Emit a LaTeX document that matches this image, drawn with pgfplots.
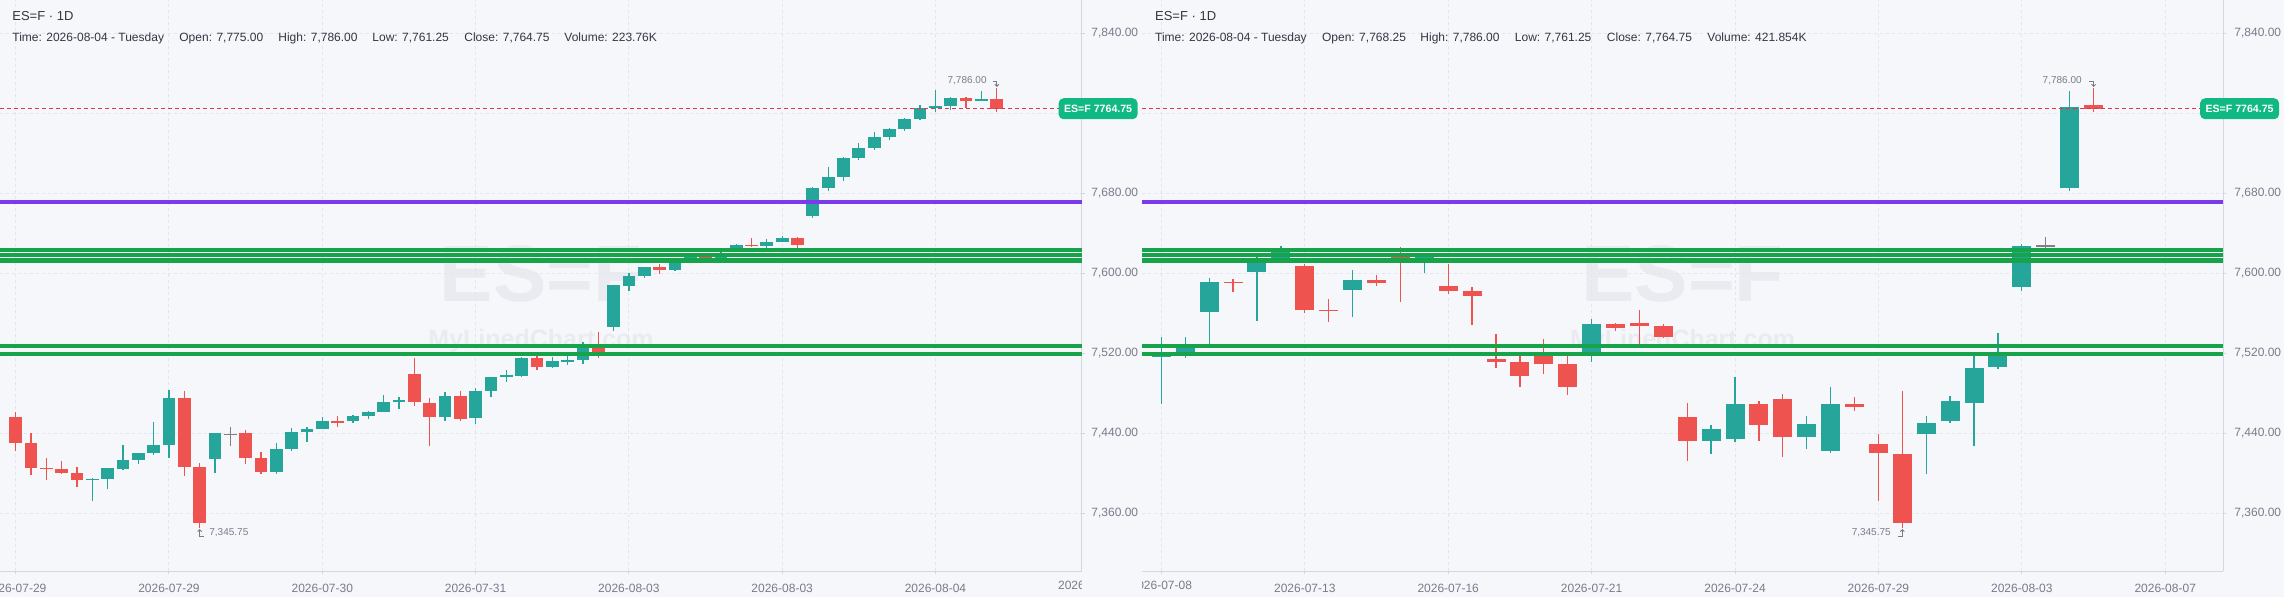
\documentclass[border=0pt]{standalone}
\usepackage{fontspec}
\setmainfont{Liberation Sans}
\usepackage{pgfplots}
\pgfplotsset{compat=1.18}
\usepackage{pgfplotstable}
\usetikzlibrary{arrows.meta}

\definecolor{bgc}{RGB}{246,247,251}
\definecolor{upc}{RGB}{38,166,154}
\definecolor{dnc}{RGB}{239,83,80}
\definecolor{dojic}{RGB}{128,128,128}
\definecolor{purp}{RGB}{124,58,237}
\definecolor{grn}{RGB}{22,163,74}
\definecolor{lastc}{RGB}{232,48,80}
\definecolor{boxc}{RGB}{16,185,129}
\definecolor{gridc}{RGB}{226,229,236}
\definecolor{axc}{RGB}{212,215,223}
\definecolor{tickc}{RGB}{120,124,138}
\definecolor{titc}{RGB}{50,54,64}
\definecolor{wmc}{RGB}{233,235,241}

% left panel candles: i open high low close
\pgfplotstableread{
i o h l c
5 7394.0 7396.0 7372.7 7394.5
6 7394.7 7405.3 7384.7 7405.3
7 7404.7 7428.3 7403.7 7413.3
8 7413.7 7420.3 7409.7 7420.3
9 7420.7 7451.3 7418.3 7428.3
10 7428.7 7483.3 7415.7 7475.3
13 7414.7 7440.3 7400.3 7440.3
17 7401.7 7430.3 7399.7 7424.3
18 7424.7 7445.3 7422.7 7441.3
19 7441.7 7446.3 7431.7 7444.3
20 7444.7 7456.3 7444.7 7452.3
22 7452.7 7458.3 7450.7 7457.3
23 7457.5 7462.5 7454.8 7461.8
24 7461.8 7478.5 7461.8 7471.5
25 7471.8 7476.5 7464.8 7473.2
28 7456.8 7481.5 7452.8 7477.5
30 7455.8 7485.5 7449.8 7482.5
31 7482.8 7496.5 7476.8 7496.5
32 7497.5 7503.5 7491.5 7497.8
33 7497.8 7516.8 7496.5 7515.5
35 7506.8 7516.5 7505.2 7512.5
36 7512.5 7518.2 7508.5 7513.2
37 7513.8 7531.5 7509.8 7526.8
39 7546.8 7588.5 7542.8 7588.5
40 7587.8 7600.8 7582.8 7597.5
41 7597.8 7606.5 7595.8 7606.5
43 7603.8 7613.0 7602.5 7611.5
44 7613.0 7619.0 7611.0 7617.0
46 7615.2 7622.0 7613.0 7620.8
47 7625.8 7629.5 7624.0 7628.5
49 7627.8 7634.5 7625.8 7631.5
50 7631.8 7637.5 7631.8 7635.5
52 7657.8 7686.8 7655.8 7685.5
53 7685.8 7706.5 7682.8 7696.5
54 7696.8 7716.2 7692.8 7715.5
55 7715.8 7730.5 7713.8 7725.5
56 7725.8 7741.5 7723.5 7736.5
57 7736.8 7745.5 7733.8 7744.5
58 7744.8 7755.5 7742.8 7754.5
59 7754.8 7768.5 7753.8 7765.5
60 7765.8 7783.5 7761.8 7767.5
61 7767.8 7776.5 7763.8 7775.5
63 7772.8 7782.5 7772.8 7774.5
}\LU
\pgfplotstableread{
i o h l c
0 7456.3 7461.3 7422.7 7430.7
1 7430.3 7440.3 7398.7 7405.7
2 7405.5 7415.3 7393.7 7405.0
3 7404.3 7413.0 7399.3 7400.7
4 7400.3 7406.3 7386.7 7393.7
11 7475.3 7482.3 7397.7 7406.7
12 7406.3 7411.0 7345.75 7350.7
15 7440.3 7444.0 7409.7 7415.7
16 7415.3 7421.3 7399.7 7401.7
21 7452.0 7457.7 7446.7 7451.7
26 7499.5 7515.5 7467.8 7471.8
27 7470.5 7475.2 7427.8 7456.8
29 7477.5 7482.2 7452.8 7454.8
34 7515.5 7517.8 7503.8 7506.8
38 7526.8 7541.8 7515.8 7521.2
42 7606.5 7609.8 7599.8 7603.8
45 7616.5 7618.0 7613.0 7615.0
48 7628.5 7635.5 7626.8 7627.8
51 7635.5 7636.8 7625.8 7628.8
62 7775.5 7776.5 7765.8 7772.8
64 7775.0 7786.0 7761.25 7764.75
}\LD
\pgfplotstableread{
i o h l c
14 7439.0 7446.3 7427.7 7439.0
}\LG

% right panel candles
\pgfplotstableread{
i o h l c
0 7516.8 7536.8 7469.5 7521.2
1 7521.2 7536.8 7515.8 7526.8
2 7561.5 7595.5 7529.5 7591.5
4 7601.5 7616.8 7552.5 7611.0
5 7615.0 7627.5 7613.0 7623.0
8 7583.5 7603.5 7556.8 7593.5
11 7610.5 7619.0 7600.5 7617.0
18 7521.5 7554.5 7511.5 7549.5
23 7432.8 7448.5 7419.8 7444.5
24 7434.8 7496.5 7431.5 7469.5
27 7436.8 7457.5 7424.8 7449.5
28 7422.8 7486.5 7420.8 7469.5
32 7439.3 7458.0 7399.3 7451.0
33 7452.3 7478.0 7450.3 7473.0
34 7470.3 7519.7 7427.3 7506.0
35 7506.3 7540.7 7504.3 7519.7
36 7587.0 7629.7 7582.3 7628.0
38 7685.3 7783.0 7682.3 7767.0
}\RU
\pgfplotstableread{
i o h l c
3 7591.5 7594.5 7581.5 7591.0
6 7607.5 7610.0 7560.5 7563.5
7 7563.5 7574.5 7551.5 7563.0
9 7593.5 7598.5 7587.5 7590.5
10 7616.0 7626.5 7571.5 7612.0
12 7587.5 7610.0 7579.5 7582.5
13 7582.5 7586.5 7548.5 7577.5
14 7514.5 7539.5 7505.5 7511.5
15 7511.5 7517.5 7486.8 7497.8
16 7517.5 7534.5 7499.8 7509.8
17 7509.5 7517.5 7478.8 7486.8
19 7549.5 7550.8 7542.8 7545.8
20 7550.5 7563.5 7529.5 7547.8
21 7547.5 7549.5 7535.8 7536.8
22 7456.5 7470.5 7412.8 7432.8
25 7469.5 7472.5 7432.8 7448.8
26 7474.5 7479.5 7416.8 7436.8
29 7470.0 7477.0 7462.3 7466.3
30 7429.7 7440.0 7372.3 7420.3
31 7419.7 7483.0 7345.75 7350.3
39 7768.25 7786.0 7761.25 7764.75
}\RD
\pgfplotstableread{
i o h l c
37 7628.0 7637.0 7624.7 7628.0
}\RG

\pgfplotsset{
  panel/.style={
    scale only axis, height=285.65pt, ymin=7302.2, ymax=7873.5,
    anchor=south west, clip=false,
    axis x line*=bottom, axis y line*=right,
    axis line style={draw=axc, line width=0.6pt},
    tick style={draw=axc, line width=0.5pt},
    major tick length=1.5pt, tick align=outside,
    grid=major,
    major grid style={draw=gridc, dash pattern=on 1.5pt off 1.5pt, line width=0.5pt},
    ytick={7360,7440,7520,7600,7680,7840},
    extra y ticks={7760}, extra y tick labels={},
    scaled y ticks=false,
    /pgf/number format/fixed, /pgf/number format/fixed zerofill,
    /pgf/number format/precision=2, /pgf/number format/1000 sep={,},
    /pgf/number format/assume math mode=true,
    yticklabel style={font=\fontsize{6}{7}\selectfont, text=tickc, anchor=west, inner sep=0pt},
    xticklabel style={font=\fontsize{6}{7}\selectfont, text=tickc, anchor=center, yshift=-6.85pt, inner sep=0pt},
  },
  wick/.style={draw=none, mark=none,
    error bars/y dir=both, error bars/y explicit, error bars/error mark=none,
    error bars/error bar style={draw=#1, line width=0.65pt, solid}},
  body/.style 2 args={draw=none, mark=none,
    error bars/y dir=both, error bars/y explicit, error bars/error mark=none,
    error bars/error bar style={draw=#1, line width=#2, solid}},
}
\newcommand{\candles}[3]{%
  \addplot[wick=#2] table[x=i, y expr={(\thisrow{h}+\thisrow{l})/2}, y error expr={(\thisrow{h}-\thisrow{l})/2}] {#1};
  \addplot[body={#2}{#3}] table[x=i, y expr={(\thisrow{o}+\thisrow{c})/2}, y error expr={max(abs(\thisrow{o}-\thisrow{c})/2,0.5)}] {#1};
}

\begin{document}
\begin{tikzpicture}
\fill[bgc] (0,0) rectangle (1142pt,298.5pt);
% watermarks
\node[anchor=base, inner sep=0pt, text=wmc, font=\fontsize{40}{40}\bfseries\selectfont] at (270.5pt,147.65pt) {ES=F};
\node[anchor=base, inner sep=0pt, text=wmc, font=\fontsize{12.5}{13}\bfseries\selectfont] at (270.5pt,124.5pt) {MyLinedChart.com};
\node[anchor=base, inner sep=0pt, text=wmc, font=\fontsize{40}{40}\bfseries\selectfont] at (841.3pt,147.65pt) {ES=F};
\node[anchor=base, inner sep=0pt, text=wmc, font=\fontsize{12.5}{13}\bfseries\selectfont] at (841.3pt,124.5pt) {MyLinedChart.com};

% ---------------- left panel ----------------
\begin{axis}[panel, at={(0pt,12.85pt)}, width=540.85pt,
  xmin=-1.024, xmax=69.54,
  xtick={0,10,...,60},
  xticklabels={2026-07-29,2026-07-29,2026-07-30,2026-07-31,2026-08-03,2026-08-03,2026-08-04},
  yticklabel style={xshift=3.15pt}]
\candles{\LU}{upc}{6.35pt}
\candles{\LD}{dnc}{6.35pt}
\candles{\LG}{dojic}{6.35pt}
\addplot[grn, line width=2pt] coordinates {(-1.024,7623.5) (69.54,7623.5)};
\addplot[grn, line width=2pt] coordinates {(-1.024,7618.5) (69.54,7618.5)};
\addplot[grn, line width=2pt] coordinates {(-1.024,7613.7) (69.54,7613.7)};
\addplot[grn, line width=2pt] coordinates {(-1.024,7612.0) (69.54,7612.0)};
\addplot[grn, line width=2pt] coordinates {(-1.024,7527.5) (69.54,7527.5)};
\addplot[grn, line width=2pt] coordinates {(-1.024,7519.7) (69.54,7519.7)};
\addplot[purp, line width=1.85pt] coordinates {(-1.024,7671.7) (69.54,7671.7)};
\addplot[lastc, line width=0.6pt, dash pattern=on 2pt off 1.5pt] coordinates {(-1.024,7764.75) (69.54,7764.75)};
\node[anchor=east, inner sep=0pt, font=\fontsize{5}{6}\selectfont, text=tickc] at (axis cs:63.36,7792.8) {7,786.00};
\draw[tickc, line width=0.45pt, -{Straight Barb[length=1pt,width=2pt]}] (axis cs:63.74,7791.8) -- (axis cs:64,7791.8) -- (axis cs:64,7786.5);
\node[anchor=west, inner sep=0pt, font=\fontsize{5}{6}\selectfont, text=tickc] at (axis cs:12.61,7340.5) {7,345.75};
\draw[tickc, line width=0.45pt, -{Straight Barb[length=1pt,width=2pt]}] (axis cs:12.26,7337) -- (axis cs:12,7337) -- (axis cs:12,7344.5);
\node[fill=boxc, text=white, rounded corners=2.5pt, minimum width=39.5pt, minimum height=10.5pt, inner sep=0pt, font=\fontsize{5.3}{6}\bfseries\selectfont] at (axis cs:70.61,7764.75) {ES=F 7764.75};
\end{axis}

% ---------------- right panel ----------------
\begin{axis}[panel, at={(571pt,12.85pt)}, width=540.65pt,
  xmin=-0.81, xmax=44.43,
  xtick={0,6,...,42},
  xticklabels={{},2026-07-13,2026-07-16,2026-07-21,2026-07-24,2026-07-29,2026-08-03,2026-08-07},
  yticklabel style={xshift=3.85pt}]
\candles{\RU}{upc}{9.5pt}
\candles{\RD}{dnc}{9.5pt}
\candles{\RG}{dojic}{9.5pt}
\addplot[grn, line width=2pt] coordinates {(-0.81,7623.5) (44.43,7623.5)};
\addplot[grn, line width=2pt] coordinates {(-0.81,7618.5) (44.43,7618.5)};
\addplot[grn, line width=2pt] coordinates {(-0.81,7613.7) (44.43,7613.7)};
\addplot[grn, line width=2pt] coordinates {(-0.81,7612.0) (44.43,7612.0)};
\addplot[grn, line width=2pt] coordinates {(-0.81,7527.5) (44.43,7527.5)};
\addplot[grn, line width=2pt] coordinates {(-0.81,7519.7) (44.43,7519.7)};
\addplot[purp, line width=1.85pt] coordinates {(-0.81,7671.7) (44.43,7671.7)};
\addplot[lastc, line width=0.6pt, dash pattern=on 2pt off 1.5pt] coordinates {(-0.81,7764.75) (44.43,7764.75)};
\node[anchor=east, inner sep=0pt, font=\fontsize{5}{6}\selectfont, text=tickc] at (axis cs:38.52,7792.8) {7,786.00};
\draw[tickc, line width=0.45pt, -{Straight Barb[length=1pt,width=2pt]}] (axis cs:38.83,7791.8) -- (axis cs:39,7791.8) -- (axis cs:39,7786.5);
\node[anchor=east, inner sep=0pt, font=\fontsize{5}{6}\selectfont, text=tickc] at (axis cs:30.53,7340.5) {7,345.75};
\draw[tickc, line width=0.45pt, -{Straight Barb[length=1pt,width=2pt]}] (axis cs:30.83,7337) -- (axis cs:31,7337) -- (axis cs:31,7344.5);
\node[fill=boxc, text=white, rounded corners=2.5pt, minimum width=39.5pt, minimum height=10.5pt, inner sep=0pt, font=\fontsize{5.3}{6}\bfseries\selectfont] at (axis cs:45.11,7764.75) {ES=F 7764.75};
\end{axis}

% clipped partial tick labels at panel edges
\begin{scope}
\clip (0,0) rectangle (540.85pt,298.5pt);
\node[font=\fontsize{6}{7}\selectfont, text=tickc, inner sep=0pt] at (544.4pt,6pt) {2026-08-05};
\end{scope}
\begin{scope}
\clip (571pt,0) rectangle (1142pt,298.5pt);
\node[font=\fontsize{6}{7}\selectfont, text=tickc, inner sep=0pt] at (580.65pt,6pt) {2026-07-08};
\end{scope}

% headers
\node[anchor=base west, inner sep=0pt, text=titc, font=\fontsize{6.5}{8}\selectfont] at (6pt,288.2pt) {ES=F · 1D};
\foreach \x/\t in {6/{Time: 2026-08-04 - Tuesday}, 89.5/{Open: 7,775.00}, 139/{High: 7,786.00}, 186/{Low: 7,761.25}, 232/{Close: 7,764.75}, 282/{Volume: 223.76K}}
  \node[anchor=base west, inner sep=0pt, text=titc, font=\fontsize{6}{7}\selectfont] at (\x pt,277.5pt) {\t};
\node[anchor=base west, inner sep=0pt, text=titc, font=\fontsize{6.5}{8}\selectfont] at (577.35pt,288.2pt) {ES=F · 1D};
\foreach \x/\t in {577.35/{Time: 2026-08-04 - Tuesday}, 660.85/{Open: 7,768.25}, 710/{High: 7,786.00}, 757.25/{Low: 7,761.25}, 803.25/{Close: 7,764.75}, 853.5/{Volume: 421.854K}}
  \node[anchor=base west, inner sep=0pt, text=titc, font=\fontsize{6}{7}\selectfont] at (\x pt,277.5pt) {\t};

\pgfresetboundingbox
\useasboundingbox (0,0) rectangle (1142pt,298.5pt);
\end{tikzpicture}
\end{document}
